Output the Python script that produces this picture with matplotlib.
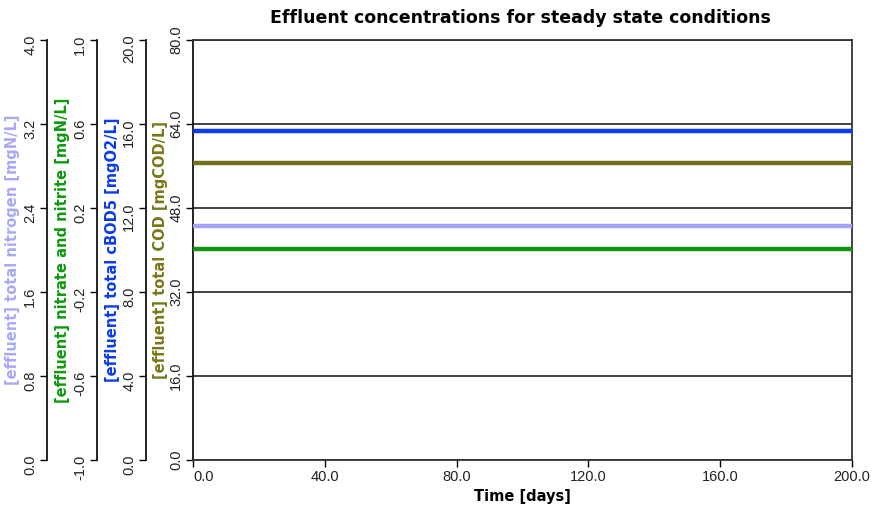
import numpy as np
import matplotlib.pyplot as plt

# steady state effluent run: time axis and the four effluent series
time_days = [0.0, 200.0]
total_nitrogen = [2.23, 2.23]        # mgN/L
nitrate_nitrite = [0.005, 0.005]     # mgN/L
total_cbod5 = [15.68, 15.68]         # mgO2/L
total_cod = [56.6, 56.6]             # mgCOD/L

x_ticks = [0, 40, 80, 120, 160, 200]
tn_ticks = [0.0, 0.8, 1.6, 2.4, 3.2, 4.0]
no3_ticks = [-1.0, -0.6, -0.2, 0.2, 0.6, 1.0]
bod_ticks = [0.0, 4.0, 8.0, 12.0, 16.0, 20.0]
cod_ticks = [0.0, 16.0, 32.0, 48.0, 64.0, 80.0]

# tick numbers in a plain sans, titles in bold DejaVu
plt.rcParams['font.family'] = ['Liberation Sans Narrow', 'Liberation Sans', 'DejaVu Sans']
label_font = ['DejaVu Sans']

W, H = 872, 511
fig = plt.figure(figsize=(W / 100, H / 100), dpi=100)
left, right, top, bottom = 193, 852, 40, 460
rect = [left / W, (H - bottom) / H, (right - left) / W, (bottom - top) / H]
ax = fig.add_axes(rect)

def px_frac(px):
    return (px - left) / (right - left)

def style_left(a, ticks, lim, label, color, spine_px, label_px):
    a.yaxis.set_ticks_position('left')
    a.yaxis.set_label_position('left')
    a.set_ylim(*lim)
    a.set_yticks(ticks)
    a.set_yticklabels([f'{t:.1f}' for t in ticks])
    a.tick_params(axis='y', which='both', direction='out', length=5, width=1, pad=2,
                  left=True, right=False, labelleft=True, labelright=False,
                  labelrotation=90, labelsize=10.5, labelcolor='#222222')
    for t in a.get_yticklabels():
        t.set_va('center')
    a.set_ylabel(label, color=color, fontweight='bold', fontsize=10.5, family=label_font)
    a.yaxis.set_label_coords(px_frac(label_px), 0.5)
    if spine_px is not None:
        a.spines['left'].set_position(('axes', px_frac(spine_px)))
        a.spines['left'].set_visible(True)
        for s in ['top', 'right', 'bottom']:
            a.spines[s].set_visible(False)
        a.patch.set_visible(False)
        a.xaxis.set_visible(False)
    a.spines['left'].set_linewidth(1.3)
    a.spines['left'].set_color('#111111')

# main axes holds the COD scale and the grid
ax.plot(time_days, total_cod, color='#707018', lw=3.2, solid_capstyle='butt', zorder=3)
ax.set_xlim(0, 200)
ax.set_xticks(x_ticks)
ax.set_xticklabels([f'{t:.1f}' for t in x_ticks], fontsize=10.5, color='#222222')
ax.get_xticklabels()[0].set_ha('left')
ax.tick_params(axis='x', direction='out', length=5, width=1, pad=2)
ax.set_xlabel('Time [days]', fontweight='bold', fontsize=10.5, family=label_font, labelpad=4)
style_left(ax, cod_ticks, (0, 80), '[effluent] total COD [mgCOD/L]', '#78781a', None, 168)
ax.yaxis.grid(True, color='#222222', lw=1.2)
ax.set_axisbelow(True)
for s in ['top', 'right', 'bottom']:
    ax.spines[s].set_linewidth(1.3)
    ax.spines[s].set_color('#333333')

ax_bod = ax.twinx()
ax_bod.plot(time_days, total_cbod5, color='#0a3cf5', lw=3.2, solid_capstyle='butt')
style_left(ax_bod, bod_ticks, (0, 20), '[effluent] total cBOD5 [mgO2/L]', '#0a3cf0', 146, 120)

ax_no3 = ax.twinx()
ax_no3.plot(time_days, nitrate_nitrite, color='#129612', lw=3.2, solid_capstyle='butt')
style_left(ax_no3, no3_ticks, (-1, 1), '[effluent] nitrate and nitrite [mgN/L]', '#109a10', 97, 70)

ax_tn = ax.twinx()
ax_tn.plot(time_days, total_nitrogen, color='#a4a4f8', lw=3.2, solid_capstyle='butt')
style_left(ax_tn, tn_ticks, (0, 4), '[effluent] total nitrogen [mgN/L]', '#aaaaf4', 47, 20)

for a in [ax_bod, ax_no3, ax_tn]:
    a.set_xlim(0, 200)

fig.text(px_frac(520) * rect[2] + rect[0], 1 - 18 / H,
         'Effluent concentrations for steady state conditions',
         ha='center', va='center', fontweight='bold', fontsize=12.5, family=label_font)

fig.savefig('out.png', dpi=100)
